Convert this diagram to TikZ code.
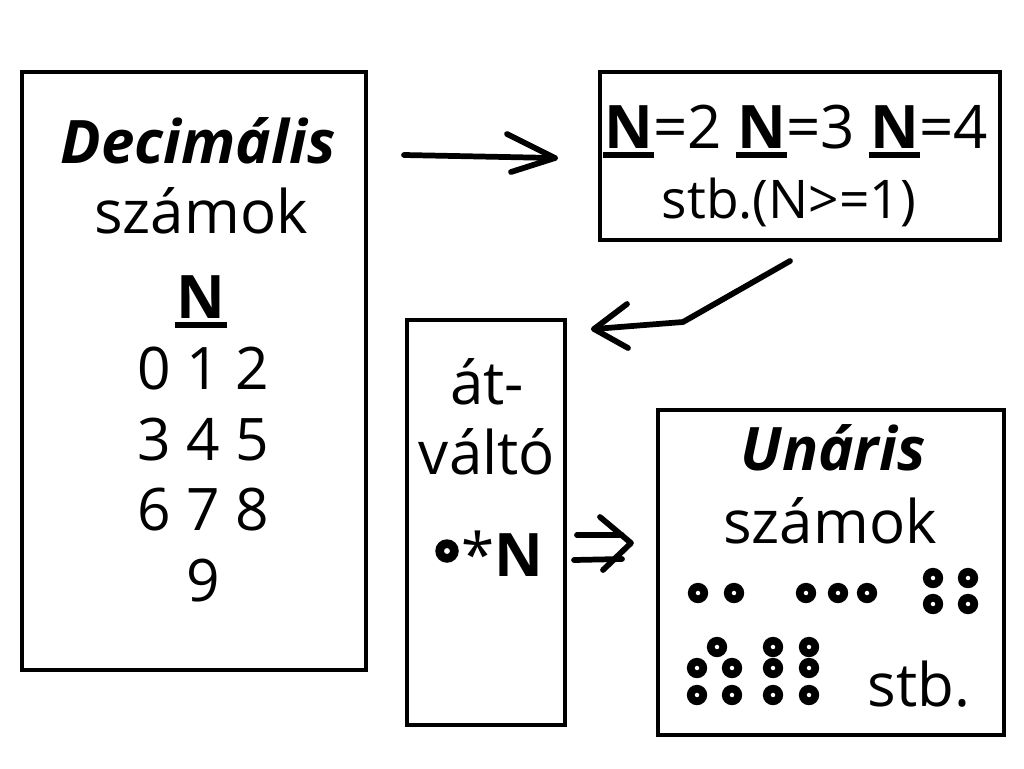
\documentclass[tikz,border=0pt]{standalone}
\usepackage{fontspec}
\setmainfont{Open Sans}
\usetikzlibrary{fit}
\newcommand\ulN{\setbox0\hbox{\bfseries N}\rlap{\kern-0.02em\rule[-0.17em]{\dimexpr\wd0+0.04em}{0.1em}}\box0}
\tikzset{
  box/.style={draw, line width=3.6pt, inner sep=0pt},
  txt/.style={anchor=base, inner sep=0pt, font=\fontsize{45}{48}\selectfont},
  dig/.style={anchor=base, inner sep=0pt, font=\fontsize{44}{48}\selectfont},
  small/.style={anchor=base, inner sep=0pt, font=\fontsize{40}{44}\selectfont},
  arr/.style={line width=4.3pt, line cap=round, line join=round},
  ring/.style={draw, circle, line width=5.8pt, minimum size=9.4pt, inner sep=0pt},
}
\begin{document}
\begin{tikzpicture}[x=0.75pt,y=-0.75pt]
\useasboundingbox (0,0) rectangle (1024,768);
% boxes
\node[box, fit={(22,72)(366,670)}] (dec) {};
\node[box, fit={(600,72)(1000,240)}] (ex) {};
\node[box, fit={(407,320)(565,725)}] (conv) {};
\node[box, fit={(658,410)(1004,735)}] (un) {};
% left box text
\node[txt] (t1) at (198,163) {\bfseries\itshape Decimális};
\node[txt] (t2) at (201,233) {számok};
\node[txt] (t3) at (201,318) {\ulN};
\node[dig] (t4) at (203,389) {0 1 2};
\node[dig] (t5) at (203,460) {3 4 5};
\node[dig] (t6) at (203,530) {6 7 8};
\node[dig] (t7) at (203,601) {9};
% top right
\node[txt] (e1) at (796,148) {\ulN=2 \ulN=3 \ulN=4};
\node[small] (e2) at (789,218) {stb.(N>=1)};
% middle
\node[txt] (c1) at (487,404) {át-};
\node[txt] (c2) at (487,474) {váltó};
\node[ring, line width=6.5pt, minimum size=11pt] (c0) at (447,551) {};
\node[txt, anchor=base west] (c3) at (461,576) {*\textbf{N}};
% unary box
\node[txt] (u1) at (833,470) {\bfseries\itshape Unáris};
\node[txt] (u2) at (830,543) {számok};
\node[txt] (u3) at (919,706) {stb.};
\foreach \i/\x/\y in {a/698/593,b/734/593,c/806/593,d/838/593,e/867/593,
  f/933/578,g/968/578,h/933/604,k/968/604,
  l/717/647,m/697/668,n/732/668,o/697/695,p/732/695,
  q/773/647,r/773/668,s/773/695,t/809/647,u/809/668,v/809/695}
  \node[ring] (r\i) at (\x,\y) {};
% arrow 1
\coordinate (a1s) at (404,155);
\coordinate (a1t) at (555,158);
\coordinate (a1u) at (507,134);
\coordinate (a1l) at (511,172);
\draw[arr] (a1s) -- (a1t);
\draw[arr] (a1u) -- (a1t) -- (a1l);
% arrow 2
\coordinate (a2s) at (790,261);
\coordinate (a2b) at (683,322);
\coordinate (a2t) at (594,329);
\coordinate (a2u) at (627,304);
\coordinate (a2l) at (628,348);
\draw[arr] (a2s) -- (a2b) -- (a2t);
\draw[arr] (a2u) -- (a2t) -- (a2l);
% arrow 3
\coordinate (a3u1) at (577,535);
\coordinate (a3u2) at (622,535);
\coordinate (a3l1) at (574,560);
\coordinate (a3l2) at (622,559);
\coordinate (a3h1) at (600,517);
\coordinate (a3t) at (631,543);
\coordinate (a3h2) at (603,570);
\draw[arr] (a3u1) -- (a3u2);
\draw[arr] (a3l1) -- (a3l2);
\draw[arr] (a3h1) -- (a3t) -- (a3h2);
\end{tikzpicture}
\end{document}
